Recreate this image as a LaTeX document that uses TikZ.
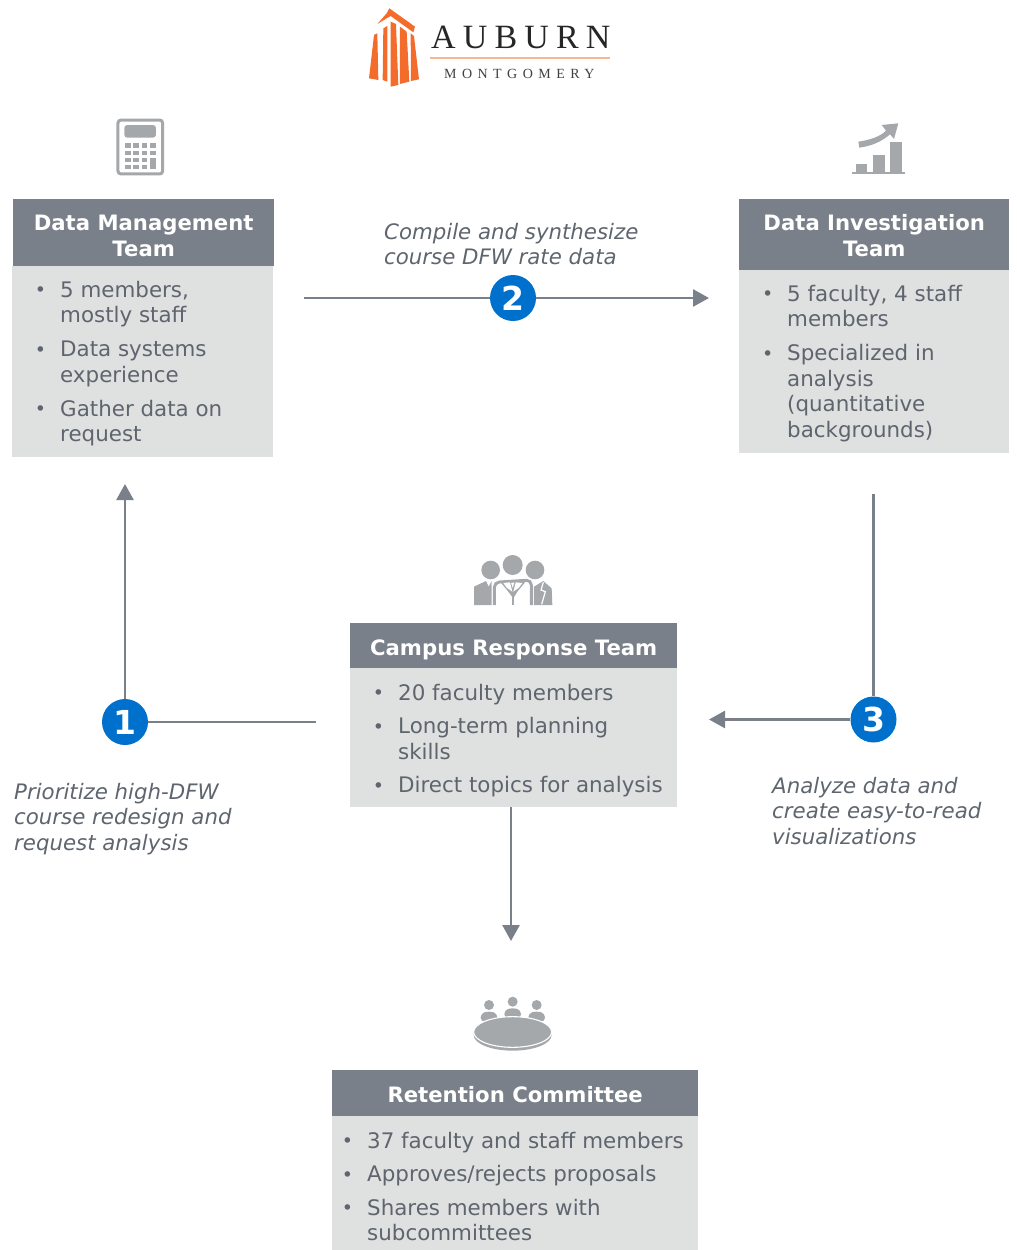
\documentclass[tikz,border=0pt]{standalone}
\usepackage{fontspec}
\setmainfont{DejaVu Sans}
\newfontfamily\logofont{Liberation Serif}
\usetikzlibrary{arrows.meta,positioning}
\definecolor{headgray}{HTML}{7A8089}
\definecolor{bodygray}{HTML}{DFE1E0}
\definecolor{textgray}{HTML}{5E656E}
\definecolor{icongray}{HTML}{A4A8AB}
\definecolor{badgeblue}{HTML}{0070CD}
\definecolor{logoorange}{HTML}{F36C2C}
\newcommand{\itemdot}{\llap{\raisebox{0.5pt}{\fontsize{19}{19}\selectfont\textbullet}\hspace{14pt}}}
\newcommand{\headstrut}[1]{\rule{0pt}{#1pt}}
\tikzset{%
	headbox/.style  = {fill=headgray, text=white, anchor=north west, inner sep=0pt, align=center, font=\fontsize{21.2}{26}\selectfont\bfseries},
	bodybox/.style  = {fill=bodygray, anchor=north west, inner sep=0pt},
	bodytext/.style = {text=textgray, anchor=north west, inner sep=0pt, align=left, font=\fontsize{21.4}{25.5}\selectfont},
	steptext/.style = {text=textgray, anchor=north west, inner sep=0pt, align=left, font=\fontsize{21.3}{25.5}\selectfont\itshape},
	badge/.style    = {circle, fill=badgeblue, text=white, inner sep=0pt, minimum size=46pt, font=\fontsize{33}{33}\selectfont\bfseries},
	link/.style     = {draw=headgray, line width=2.6pt},
	linkto/.style   = {link, -{Triangle[length=16pt,width=17pt]}},
	icon/.style     = {x=0.3333pt, y=-0.3333pt},
}
\begin{document}
\begin{tikzpicture}[x=1pt,y=-1pt]
	\useasboundingbox (0,0) rectangle (1017,1250);

	% logo
	\begin{scope}[shift={(350,0)},icon]
		\fill[logoorange] (118,25) -- (195,80) -- (190,97) -- (122,48) -- (82,72) -- (110,40) -- cycle;
		\fill[logoorange] (72,105) -- (82,100) -- (85,240) -- (57,235) -- cycle;
		\fill[logoorange] (100,85) -- (112,78) -- (112,245) -- (98,240) -- cycle;
		\fill[logoorange] (122,65) -- (138,72) -- (145,255) -- (122,260) -- cycle;
		\fill[logoorange] (150,80) -- (170,95) -- (178,245) -- (150,252) -- cycle;
		\fill[logoorange] (182,100) -- (192,108) -- (207,238) -- (183,243) -- cycle;
	\end{scope}
	\node[anchor=west, inner sep=0pt, text=black!85, font=\logofont\fontsize{34}{34}\selectfont\addfontfeature{LetterSpace=21}] (auburn) at (431,37) {AUBURN};
	\draw[logoorange!50, line width=1.3pt] (430,58) -- (610,58);
	\node[anchor=west, inner sep=0pt, text=black!75, font=\logofont\fontsize{14}{14}\selectfont\addfontfeature{LetterSpace=39}] (montgomery) at (444,74) {MONTGOMERY};

	% calculator
	\begin{scope}[shift={(90,110)},icon]
		\draw[icongray, line width=3pt, rounded corners=3pt] (84,30) rectangle (218,192);
		\fill[icongray, rounded corners=3pt] (103,45) rectangle (198,83);
		\foreach \x in {105,130,155,180} \foreach \y in {100,122} \fill[icongray] (\x,\y) rectangle ++(17,13);
		\foreach \x in {105,130,155} \foreach \y in {143,164} \fill[icongray] (\x,\y) rectangle ++(17,13);
		\fill[icongray] (180,143) rectangle (197,177);
	\end{scope}

	% growth chart
	\begin{scope}[shift={(830,110)},icon]
		\fill[icongray] (67,185) rectangle (225,191);
		\fill[icongray] (77,162) rectangle (112,185);
		\fill[icongray] (128,135) rectangle (165,185);
		\fill[icongray] (180,97) rectangle (215,185);
		\fill[icongray] (85,95) .. controls (120,90) and (150,80) .. (168,62) -- (155,45) -- (205,40) -- (192,87) -- (180,73) .. controls (155,95) and (125,108) .. (88,113) -- cycle;
	\end{scope}

	% three people
	\begin{scope}[shift={(460,545)},icon]
		\fill[icongray] (92,75) circle (28);
		\fill[icongray] (225,75) circle (28);
		\fill[icongray] (158,60) circle (30);
		\fill[icongray] (42,180) -- (42,125) -- (78,108) -- (86,125) -- (95,108) -- (95,180) -- cycle;
		\fill[icongray] (222,180) -- (222,125) -- (250,108) -- (275,130) -- (277,180) -- cycle;
		\draw[white, line width=1.2pt] (250,112) -- (243,135) -- (256,140) -- (245,178);
		\draw[icongray, line width=3pt, fill=white, rounded corners=5pt] (103,180) -- (103,112) -- (214,105) -- (214,180);
		\fill[icongray] (122,112) -- (150,105) -- (158,130) -- (166,105) -- (195,112) -- (172,140) -- (160,160) -- (145,140) -- cycle;
		\fill[white] (130,114) -- (150,112) -- (157,140) -- (140,128) -- cycle;
		\fill[white] (187,114) -- (167,112) -- (160,140) -- (177,128) -- cycle;
		\draw[icongray, line width=1.5pt] (159,150) -- (159,180);
	\end{scope}

	% table
	\begin{scope}[shift={(460,985)},icon]
		\foreach \x/\y in {87/60,158/50,230/60} {
			\fill[icongray] (\x,\y) circle (15);
			\fill[icongray, rounded corners=4pt] (\x-25,\y+50) -- (\x-25,\y+25) -- (\x,\y+18) -- (\x+25,\y+25) -- (\x+25,\y+50) -- cycle;
		}
		\fill[icongray] (158,150) ellipse (117 and 47);
		\draw[white, line width=1.1pt, fill=icongray] (158,141) ellipse (117 and 46);
	\end{scope}

	% connectors, the badges go over them
	\coordinate (twoin) at (304,298);
	\coordinate (twoout) at (709,298);
	\coordinate (threein) at (873.5,494);
	\coordinate (threeout) at (709,719.5);
	\coordinate (onein) at (316,722);
	\coordinate (oneout) at (125,484);
	\coordinate (crout) at (511,807);
	\coordinate (crend) at (511,941);
	\node[badge] (two) at (513,298) {2};
	\node[badge] (three) at (873.5,719.5) {3};
	\node[badge] (one) at (125,722) {1};
	\draw[link] (twoin) -- (two);
	\draw[linkto] (two) -- (twoout);
	\draw[link] (threein) -- (three);
	\draw[linkto] (three) -- (threeout);
	\draw[link] (onein) -- (one);
	\draw[linkto] (one) -- (oneout);
	\draw[linkto] (crout) -- (crend);

	% data management team
	\node[bodybox, minimum width=261pt, minimum height=191pt] (dmbody) at (12,266) {};
	\node[headbox, minimum width=261pt, minimum height=67pt] (dmhead) at (13,199) {\headstrut{22}Data Management\\Team};
	\node[bodytext] (dmtext) at (60,281) {\itemdot 5 members,\\mostly staff\\[8.5pt]\itemdot Data systems\\experience\\[8.5pt]\itemdot Gather data on\\request};

	% data investigation team
	\node[bodybox, minimum width=270pt, minimum height=183pt] (dibody) at (739,270) {};
	\node[headbox, minimum width=270pt, minimum height=71pt] (dihead) at (739,199) {\headstrut{18}Data Investigation\\Team};
	\node[bodytext] (ditext) at (787,285) {\itemdot 5 faculty, 4 staff\\members\\[8.5pt]\itemdot Specialized in\\analysis\\(quantitative\\backgrounds)};

	% campus response team
	\node[bodybox, minimum width=327pt, minimum height=139pt] (crbody) at (350,668) {};
	\node[headbox, minimum width=327pt, minimum height=45pt] (crhead) at (350,623) {\headstrut{23}Campus Response Team};
	\node[bodytext] (crtext) at (398,684) {\itemdot 20 faculty members\\[8pt]\itemdot Long-term planning\\skills\\[8pt]\itemdot Direct topics for analysis};

	% retention committee
	\node[bodybox, minimum width=366pt, minimum height=134pt] (rcbody) at (332,1116) {};
	\node[headbox, minimum width=366pt, minimum height=46pt] (rchead) at (332,1070) {\headstrut{19}Retention Committee};
	\node[bodytext] (rctext) at (367,1132) {\itemdot 37 faculty and staff members\\[8pt]\itemdot Approves/rejects proposals\\[8pt]\itemdot Shares members with\\subcommittees};

	% step captions
	\node[steptext] (twotext) at (384,223) {Compile and synthesize\\course DFW rate data};
	\node[steptext] (threetext) at (772,777) {Analyze data and\\create easy-to-read\\visualizations};
	\node[steptext] (onetext) at (14,783) {Prioritize high-DFW\\course redesign and\\request analysis};
\end{tikzpicture}
\end{document}
